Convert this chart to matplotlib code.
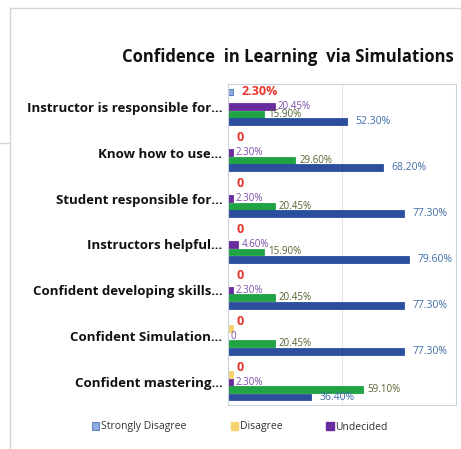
import matplotlib
matplotlib.use("Agg")
import matplotlib.pyplot as plt
from matplotlib.lines import Line2D
from matplotlib.patches import Patch

categories = ["Instructor is responsible for...", "Know how to use...",
              "Student responsible for...", "Instructors helpful...",
              "Confident developing skills...", "Confident Simulation...",
              "Confident mastering..."]
strongly_disagree = [2.30, 0, 0, 0, 0, 0, 0]
disagree = [0, 0, 0, 0, 0, 2.30, 2.30]
undecided = [20.45, 2.30, 2.30, 4.60, 2.30, 0, 2.30]
agree = [15.90, 29.60, 20.45, 15.90, 20.45, 20.45, 59.10]
strongly_agree = [52.30, 68.20, 77.30, 79.60, 77.30, 77.30, 36.40]

plt.rcParams['font.family'] = ['Open Sans', 'DejaVu Sans']

fig = plt.figure(figsize=(4.61, 4.49), dpi=100)
W, H = 461, 449
ax = fig.add_axes([228 / W, 1 - 405 / H, 228 / W, 321 / H])

n = len(categories)
ypos = [n - 1 - i for i in range(n)]
h = 0.15
s = 0.163

series = [
    (strongly_disagree, 2 * s, "#8FAADC", "#4472C4", "Strongly Disagree"),
    (disagree, s, "#F6D36E", "#F6D36E", "Disagree"),
    (undecided, 0, "#6A2C9C", "#6A2C9C", "Undecided"),
    (agree, -s, "#21A345", "#21A345", "Agree"),
    (strongly_agree, -2 * s, "#2B4F9C", "#2B4F9C", "Strongly Agree"),
]
containers = []
for vals, off, fc, ec, name in series:
    c = ax.barh([y + off for y in ypos], vals, height=h, color=fc,
                edgecolor=ec, linewidth=0.6, label=name)
    containers.append(c)

def fmt(v):
    return "0" if v == 0 else f"{v:.2f}%"

ax.bar_label(containers[0], labels=[fmt(v) for v in strongly_disagree],
             padding=6, color="#E8332A", fontsize=9, fontweight="bold")
ax.bar_label(containers[2], labels=[fmt(v) for v in undecided],
             padding=2, color="#7B4DA8", fontsize=7)
ax.bar_label(containers[3], labels=[fmt(v) for v in agree],
             padding=3, color="#55622E", fontsize=7)
ax.bar_label(containers[4], labels=[fmt(v) for v in strongly_agree],
             padding=6, color="#3F6EA8", fontsize=7.5)

ax.set_xlim(0, 100)
ax.set_ylim(-0.5, n - 0.5)
ax.set_yticks(ypos)
ax.set_yticklabels(categories, fontsize=9.5, fontweight="bold", color="#111111")
ax.tick_params(axis="y", length=0, pad=4)
ax.set_xticks([])
ax.axvline(50, color="#E4E4E4", linewidth=0.8, zorder=0)
for sp in ax.spines.values():
    sp.set_color("#C9D3E0")
    sp.set_linewidth(0.8)

fig.text(288 / W, 1 - 57 / H, "Confidence  in Learning  via Simulations",
         ha="center", va="center", fontsize=12, fontweight="bold", color="#111111")

handles = [Patch(facecolor="#8FAADC", edgecolor="#4472C4", linewidth=0.6),
           Patch(facecolor="#F6D36E", edgecolor="#F6D36E"),
           Patch(facecolor="#6A2C9C", edgecolor="#6A2C9C")]
fig.legend(handles, ["Strongly Disagree", "Disagree", "Undecided"],
           loc="center", bbox_to_anchor=(240 / W, 1 - 427 / H), ncol=3,
           frameon=False, fontsize=7.5, handlelength=0.7, handleheight=0.7,
           handletextpad=0.2, columnspacing=4.2, labelcolor="#333333")

# outer frame lines
fig.add_artist(Line2D([10 / W, 1], [1 - 8 / H, 1 - 8 / H], color="#D5D5D5", lw=1))
fig.add_artist(Line2D([10 / W, 10 / W], [0, 1 - 8 / H], color="#D5D5D5", lw=1))
fig.add_artist(Line2D([0, 10 / W], [1 - 143 / H, 1 - 143 / H], color="#D5D5D5", lw=1))

fig.savefig("out.png", dpi=100)
